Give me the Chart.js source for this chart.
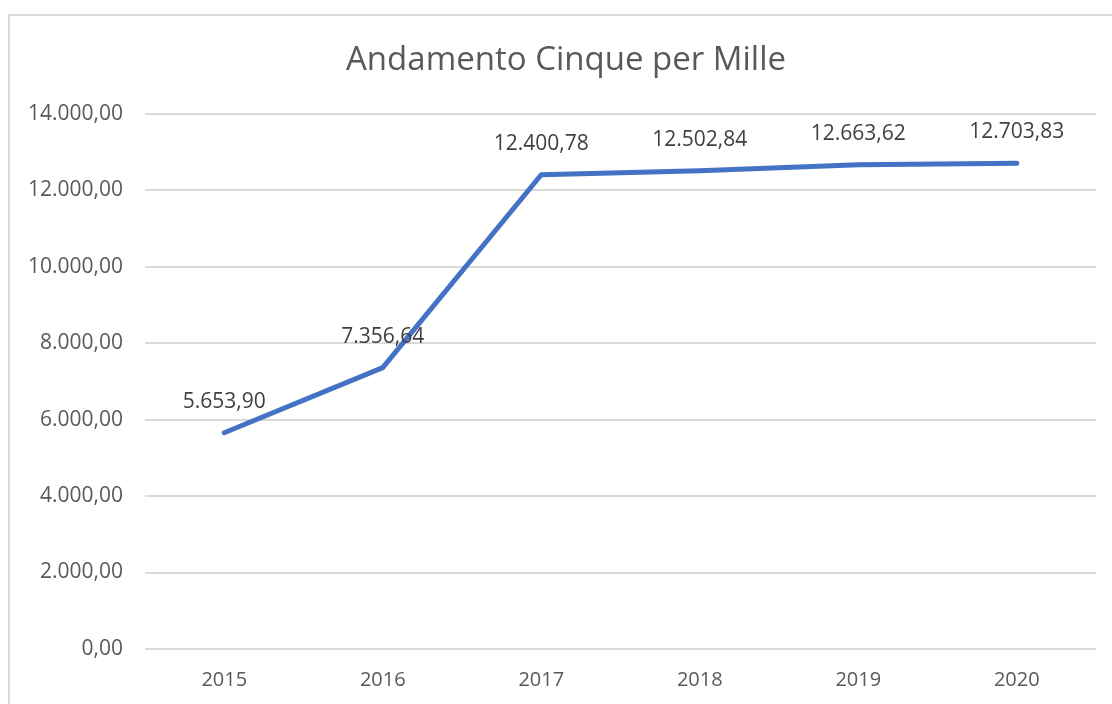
<!DOCTYPE html>
<html>
<head>
<meta charset="utf-8">
<script src="https://cdn.jsdelivr.net/npm/chart.js@4/dist/chart.umd.min.js"></script>
<style>
  html, body { margin: 0; padding: 0; background: #fff; }
  #wrap { position: relative; width: 1112px; height: 704px; overflow: hidden; }
  #frame { position: absolute; left: 8px; top: 14px; width: 1200px; height: 800px; border: 2px solid #d9d9d9; box-sizing: border-box; }
  canvas { position: absolute; left: 0; top: 0; }
</style>
</head>
<body>
<div id="wrap">
  <div id="frame"></div>
  <canvas id="cinqueChart" width="1112" height="704"></canvas>
</div>
<script>
const years = ['2015', '2016', '2017', '2018', '2019', '2020'];
const amounts = [5653.90, 7356.64, 12400.78, 12502.84, 12663.62, 12703.83];
const yTicks = [0, 2000, 4000, 6000, 8000, 10000, 12000, 14000];

// formato italiano: 12.400,78
function fmt(v) {
    const parts = v.toFixed(2).split('.');
    const intPart = parts[0].replace(/\B(?=(\d{3})+(?!\d))/g, '.');
    return intPart + ',' + parts[1];
}

const labelPlugin = {
    id: 'valueLabels',
    afterLayout(chart) {
        // titolo un po' spostato a destra come nell'originale
        chart.titleBlock.left += 16;
    },
    afterDatasetsDraw(chart) {
        const ctx = chart.ctx;
        const meta = chart.getDatasetMeta(0);
        ctx.save();
        ctx.font = '21px "Open Sans"';
        ctx.fillStyle = '#404040';
        ctx.textAlign = 'center';
        ctx.textBaseline = 'middle';
        meta.data.forEach((pt, i) => {
            ctx.fillText(fmt(amounts[i]), pt.x, pt.y - 31);
        });
        ctx.restore();
    }
};

const ctx = document.getElementById('cinqueChart').getContext('2d');
const chart = new Chart(ctx, {
    type: 'line',
    data: {
        labels: years,
        datasets: [{
            label: 'Cinque per Mille',
            data: amounts,
            borderColor: '#4472C4',
            borderWidth: 5,
            borderCapStyle: 'round',
            borderJoinStyle: 'round',
            pointRadius: 0,
            fill: false,
            tension: 0
        }]
    },
    options: {
        responsive: false,
        animation: false,
        layout: { padding: { left: 20, right: 16, top: 26, bottom: 0 } },
        plugins: {
            legend: { display: false },
            tooltip: { enabled: false },
            title: {
                display: true,
                text: 'Andamento Cinque per Mille',
                color: '#595959',
                font: { family: '"Open Sans"', size: 33, weight: 'normal' },
                padding: { top: 15, bottom: 33 }
            }
        },
        scales: {
            x: {
                offset: true,
                grid: { display: false, drawTicks: false },
                border: { display: false },
                ticks: {
                    color: '#595959',
                    font: { family: '"Open Sans"', size: 20 },
                    padding: 19
                },
                afterFit(scale) { scale.height = 55; }
            },
            y: {
                min: 0,
                max: 14000,
                afterBuildTicks(scale) { scale.ticks = yTicks.map(v => ({ value: v })); },
                grid: { color: '#d9d9d9', lineWidth: 2, drawTicks: false },
                border: { display: false },
                ticks: {
                    color: '#595959',
                    font: { family: '"Open Sans"', size: 21 },
                    padding: 22,
                    callback: v => fmt(v)
                },
                afterFit(scale) { scale.width = 125; }
            }
        }
    },
    plugins: [labelPlugin]
});
</script>
</body>
</html>
